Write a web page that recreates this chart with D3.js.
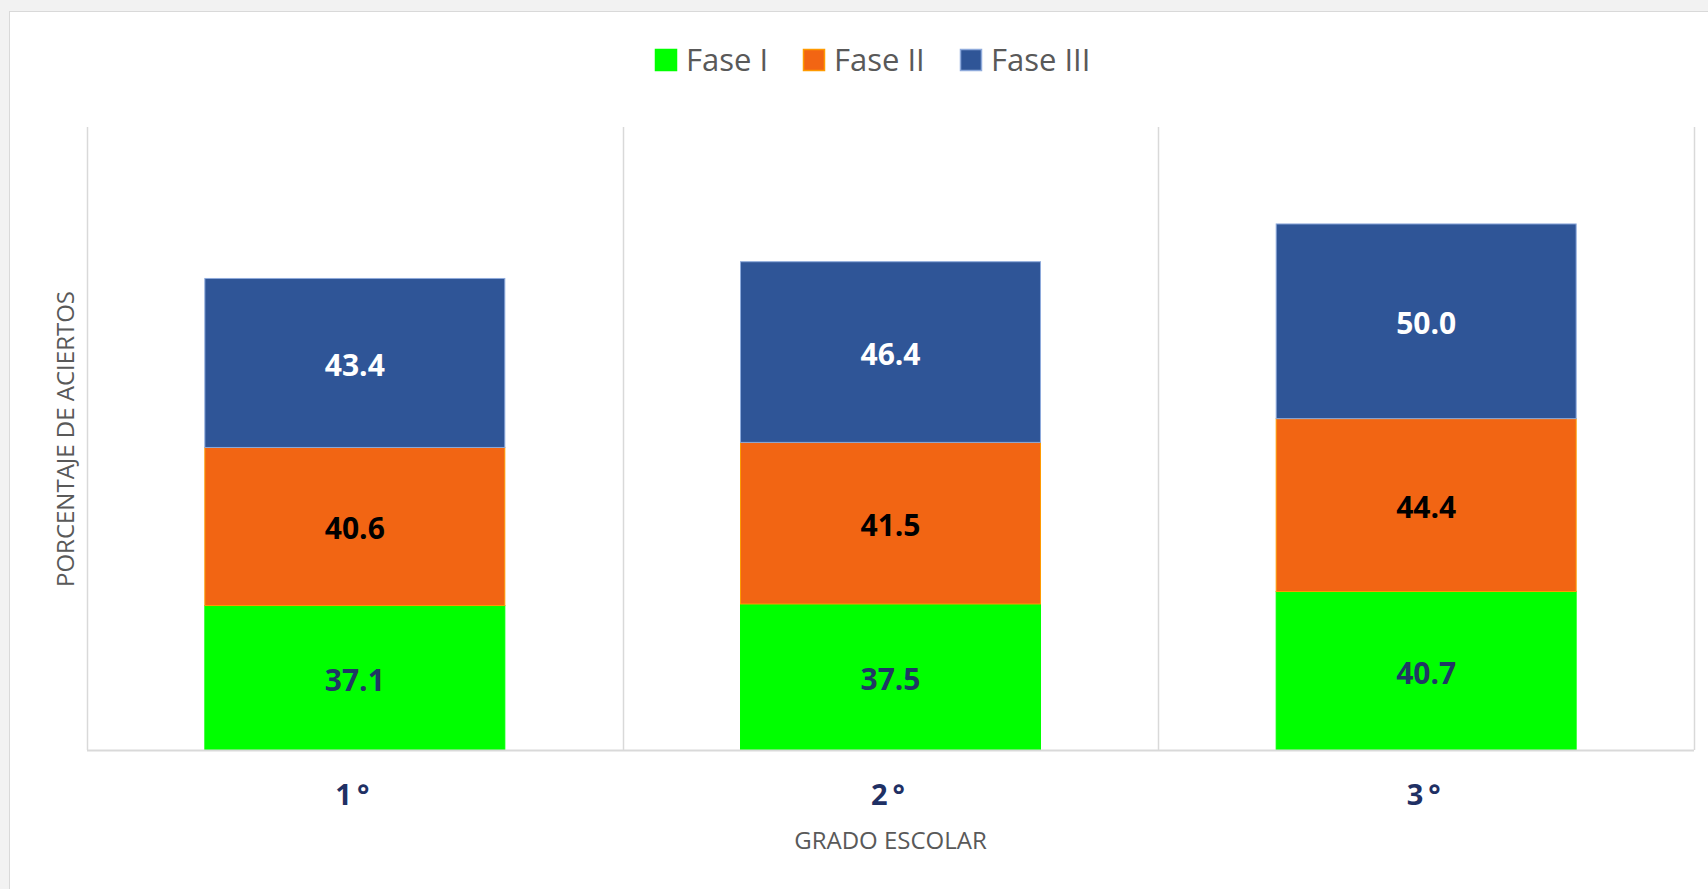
<!DOCTYPE html>
<html>
<head>
<meta charset="utf-8">
<script src="https://cdn.jsdelivr.net/npm/d3@7"></script>
<style>
	html, body { margin: 0; padding: 0; background: #f2f2f2; }
	svg { display: block; }
	text { font-family: "Open Sans", "Noto Sans", sans-serif; }
</style>
</head>
<body>
<div id="chart"></div>
<script>
var grados = ["1°", "2°", "3°"],
	fases = ["Fase I", "Fase II", "Fase III"],
	faseI = [37.1, 37.5, 40.7],
	faseII = [40.6, 41.5, 44.4],
	faseIII = [43.4, 46.4, 50.0];

(function() {
	"use strict";

	var width = 1708,
		height = 889,
		margin = { top: 127, right: 14, bottom: 139, left: 87 },
		innerW = width - margin.left - margin.right,
		innerH = height - margin.top - margin.bottom,
		colors = ["#00ff00", "#f26513", "#2f5597"],
		strokes = ["#00ff00", "#ff9a00", "#8eaadb"],
		labelColors = ["#203864", "#000000", "#ffffff"];

	var rows = grados.map(function(g, i) {
		return { grado: g, "Fase I": faseI[i], "Fase II": faseII[i], "Fase III": faseIII[i] };
	});
	var series = d3.stack().keys(fases)(rows);

	var x = d3.scaleBand()
		.domain(grados)
		.range([0, innerW])
		.padding(0);
	var barW = x.bandwidth() * 0.56;

	var y = d3.scaleLinear()
		.domain([0, 160])
		.range([innerH, 0]);

	var svg = d3.select("#chart")
		.append("svg")
		.attr("width", width)
		.attr("height", height);

	// chart area
	svg.append("rect")
		.attr("x", 9.5)
		.attr("y", 11.5)
		.attr("width", width)
		.attr("height", height)
		.attr("fill", "#ffffff")
		.attr("stroke", "#d9d9d9");

	var g = svg.append("g")
		.attr("transform", "translate(" + margin.left + "," + margin.top + ")");

	// vertical gridlines between categories
	var bounds = grados.map(function(d) { return x(d); }).concat([innerW]);
	g.append("g")
		.selectAll("line")
		.data(bounds)
		.enter()
		.append("line")
		.attr("x1", function(d) { return Math.round(d) + 0.5; })
		.attr("x2", function(d) { return Math.round(d) + 0.5; })
		.attr("y1", 0)
		.attr("y2", innerH)
		.attr("stroke", "#d9d9d9")
		.attr("stroke-width", 1.5);

	// bars
	var layer = g.selectAll("g.layer")
		.data(series)
		.enter()
		.append("g")
		.classed("layer", true);

	layer.selectAll("rect")
		.data(function(d) { return d.map(function(v) { v.idx = d.index; return v; }); })
		.enter()
		.append("rect")
		.attr("x", function(d) { return x(d.data.grado) + (x.bandwidth() - barW) / 2; })
		.attr("y", function(d) { return y(d[1]); })
		.attr("width", barW)
		.attr("height", function(d) { return y(d[0]) - y(d[1]); })
		.attr("fill", function(d) { return colors[d.idx]; })
		.attr("stroke", function(d) { return strokes[d.idx]; })
		.attr("stroke-width", 1);

	layer.selectAll("text")
		.data(function(d) { return d; })
		.enter()
		.append("text")
		.attr("x", function(d) { return x(d.data.grado) + x.bandwidth() / 2; })
		.attr("y", function(d) { return (y(d[0]) + y(d[1])) / 2 + 2; })
		.attr("dy", "0.36em")
		.attr("text-anchor", "middle")
		.attr("font-size", 30)
		.attr("font-weight", "bold")
		.attr("fill", function(d) { return labelColors[d.idx]; })
		.text(function(d) { return (d[1] - d[0]).toFixed(1); });

	// baseline
	g.append("line")
		.attr("x1", 0)
		.attr("x2", innerW)
		.attr("y1", innerH + 0.5)
		.attr("y2", innerH + 0.5)
		.attr("stroke", "#d9d9d9")
		.attr("stroke-width", 2);

	// category labels
	var xAxis = g.append("g")
		.attr("transform", "translate(0," + innerH + ")")
		.call(d3.axisBottom(x).tickSize(0).tickPadding(34));
	xAxis.select(".domain").remove();
	xAxis.selectAll("text")
		.attr("font-family", "'Open Sans', sans-serif")
		.attr("font-size", 29)
		.attr("font-weight", "bold")
		.attr("letter-spacing", "5px")
		.attr("fill", "#1f3064");

	// axis titles
	svg.append("text")
		.attr("x", margin.left + innerW / 2)
		.attr("y", 849)
		.attr("text-anchor", "middle")
		.attr("font-size", 24)
		.attr("fill", "#595959")
		.text("GRADO ESCOLAR");

	svg.append("text")
		.attr("transform", "translate(74," + 439 + ") rotate(-90)")
		.attr("text-anchor", "middle")
		.attr("font-size", 24)
		.attr("fill", "#595959")
		.text("PORCENTAJE DE ACIERTOS");

	// legend
	var legendX = [655, 803, 960];
	var legend = svg.append("g")
		.selectAll("g")
		.data(fases)
		.enter()
		.append("g")
		.attr("transform", function(d, i) { return "translate(" + legendX[i] + ",49)"; });

	legend.append("rect")
		.attr("x", 0.5)
		.attr("y", 0.5)
		.attr("width", 21)
		.attr("height", 21)
		.attr("fill", function(d, i) { return colors[i]; })
		.attr("stroke", function(d, i) { return strokes[i]; })
		.attr("stroke-width", 1.5);

	legend.append("text")
		.attr("x", 31)
		.attr("y", 11)
		.attr("dy", "0.36em")
		.attr("font-size", 31)
		.attr("fill", "#595959")
		.text(function(d) { return d; });
})();
</script>
</body>
</html>
